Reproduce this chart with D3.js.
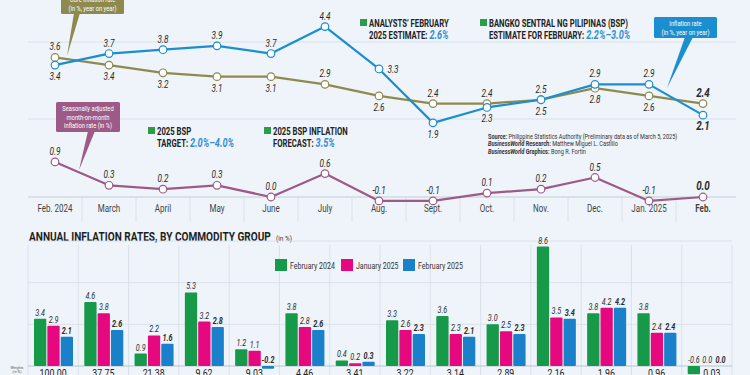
<!DOCTYPE html>
<html>
<head>
<meta charset="utf-8">
<script src="https://cdn.jsdelivr.net/npm/d3@7/dist/d3.min.js"></script>
<style>
  html, body { margin: 0; padding: 0; background: #eef4fa; }
  svg { display: block; font-family: "Roboto", "Liberation Sans", sans-serif; }
</style>
</head>
<body>
<svg id="chart" width="750" height="375"></svg>
<script>
"use strict";

const months = ["Feb. 2024", "March", "April", "May", "June", "July", "Aug.", "Sept.", "Oct.", "Nov.", "Dec.", "Jan. 2025", "Feb."];
const headline = [3.4, 3.7, 3.8, 3.9, 3.7, 4.4, 3.3, 1.9, 2.3, 2.5, 2.9, 2.9, 2.1];
const core = [3.6, 3.4, 3.2, 3.1, 3.1, 2.9, 2.6, 2.4, 2.4, 2.5, 2.8, 2.6, 2.4];
const mom = [0.9, 0.3, 0.2, 0.3, 0.0, 0.6, -0.1, -0.1, 0.1, 0.2, 0.5, -0.1, 0.0];

const weights = ["100.00", "37.75", "21.38", "9.62", "9.03", "4.46", "3.41", "3.22", "3.14", "2.89", "2.16", "1.96", "0.96", "0.03"];
const seriesNames = ["February 2024", "January 2025", "February 2025"];
const feb2024 = [3.4, 4.6, 0.9, 5.3, 1.2, 3.8, 0.4, 3.3, 3.6, 3.0, 8.6, 3.8, 3.8, -0.6];
const jan2025 = [2.9, 3.8, 2.2, 3.2, 1.1, 2.8, 0.2, 2.6, 2.3, 2.5, 3.5, 4.2, 2.4, 0.0];
const feb2025 = [2.1, 2.6, 1.6, 2.8, -0.2, 2.6, 0.3, 2.3, 2.1, 2.3, 3.4, 4.2, 2.4, 0.0];

const C = {
  blue: "#1b8ed0",
  olive: "#8e8a4e",
  mauve: "#9d5a86",
  green: "#2a9d4a",
  barGreen: "#17994a",
  barPink: "#e5087f",
  barBlue: "#1a80c9",
  grid: "#d5dde6",
  text: "#2b2b2b",
  accent: "#2f8fd6",
};

const svg = d3.select("#chart");
const fmt = (v) => d3.format(".1f")(v).replace("−", "-");

// the original uses a condensed face; squeeze measured text horizontally
function squeeze(selection, factor) {
  selection.each(function () {
    const len = this.getComputedTextLength();
    d3.select(this).attr("textLength", len * factor).attr("lengthAdjust", "spacingAndGlyphs");
  });
  return selection;
}

// ---------- top panel: monthly inflation ----------
const x = d3.scaleBand().domain(months).range([28, 730]);
const cx = (m) => x(m) + x.bandwidth() / 2;
const yYoY = d3.scaleLinear().domain([0, 4]).range([196, 42]);
const yMoM = d3.scaleLinear().domain([0, 1]).range([197, 158]);

const grid = svg.append("g");
grid.selectAll("line.h")
  .data([4, 2])
  .join("line")
  .attr("x1", 28).attr("x2", 736)
  .attr("y1", (d) => yYoY(d)).attr("y2", (d) => yYoY(d))
  .attr("stroke", C.grid).attr("stroke-width", 0.8);
grid.append("line")
  .attr("x1", 28).attr("x2", 736).attr("y1", 197).attr("y2", 197)
  .attr("stroke", "#c3ccd6").attr("stroke-width", 1);
grid.selectAll("line.sep")
  .data(months.slice(1))
  .join("line")
  .attr("x1", (d) => x(d)).attr("x2", (d) => x(d))
  .attr("y1", 197).attr("y2", 222)
  .attr("stroke", C.grid).attr("stroke-width", 0.8);

squeeze(svg.append("g")
  .selectAll("text")
  .data(months)
  .join("text")
  .attr("x", (d) => cx(d))
  .attr("y", 212)
  .attr("text-anchor", "middle")
  .attr("font-size", 10)
  .attr("font-weight", (d, i) => (i === months.length - 1 ? 700 : 400))
  .attr("fill", "#444")
  .text((d) => d), 0.8);

// annotation callouts
function callout(box, base, tip, color, lines, lineGap) {
  const g = svg.append("g");
  g.append("path")
    .attr("d", `M${base[0]},${box.y + box.h - 1} L${base[1]},${box.y + box.h - 1} L${tip[0]},${tip[1]} Z`)
    .attr("fill", color);
  g.append("rect")
    .attr("x", box.x).attr("y", box.y).attr("width", box.w).attr("height", box.h)
    .attr("rx", 1.5)
    .attr("fill", color);
  squeeze(g.selectAll("text")
    .data(lines)
    .join("text")
    .attr("x", box.x + box.w / 2)
    .attr("y", (d, i) => box.top + i * lineGap)
    .attr("text-anchor", "middle")
    .attr("font-size", 7.6)
    .attr("fill", "#fff")
    .text((d) => d), 0.76);
}

callout({ x: 61, y: -14, w: 63, h: 28, top: 1.5 }, [74, 80], [67, 56], C.olive,
  ["Core inflation rate", "(in %, year on year)"], 9);
callout({ x: 56, y: 102, w: 64, h: 30, top: 111 }, [88, 95], [79, 170], C.mauve,
  ["Seasonally adjusted", "month-on-month", "inflation rate (in %)"], 8.6);
callout({ x: 654, y: 17, w: 63, h: 21, top: 25.5 }, [685, 693], [667, 88], C.blue,
  ["Inflation rate", "(in %, year on year)"], 9);

const line = (yScale) => d3.line()
  .x((d, i) => cx(months[i]))
  .y((d) => yScale(d));

function drawSeries(values, yScale, color) {
  const g = svg.append("g");
  g.append("path")
    .datum(values)
    .attr("d", line(yScale))
    .attr("fill", "none")
    .attr("stroke", color)
    .attr("stroke-width", 2.2)
    .attr("stroke-linejoin", "round");
  g.selectAll("circle")
    .data(values)
    .join("circle")
    .attr("cx", (d, i) => cx(months[i]))
    .attr("cy", (d) => yScale(d))
    .attr("r", 3.8)
    .attr("fill", "#fff")
    .attr("stroke", color)
    .attr("stroke-width", 1.2);
}

drawSeries(core, yYoY, C.olive);
drawSeries(headline, yYoY, C.blue);
drawSeries(mom, yMoM, C.mauve);

// value labels: higher series above, lower below, with a couple of manual exceptions
const lastIdx = months.length - 1;
function pointLabels(values, other, yScale, isPrimary) {
  squeeze(svg.append("g")
    .selectAll("text")
    .data(values)
    .join("text")
    .each(function (d, i) {
      let above = other ? (isPrimary ? d >= other[i] : d > other[i]) : true;
      let dx = 0;
      if (other && !isPrimary && i === 5) above = true;
      if (other && isPrimary && i === 6) { above = null; dx = 14; }
      const yy = yScale(d);
      const sel = d3.select(this).attr("x", cx(months[i]) + dx);
      if (above === null) sel.attr("y", yy + 4);
      else sel.attr("y", above ? yy - 7 : yy + 15);
    })
    .attr("text-anchor", "middle")
    .attr("font-size", (d, i) => (i === lastIdx ? 12 : 10))
    .attr("font-weight", (d, i) => (i === lastIdx ? 700 : 400))
    .attr("font-style", "italic")
    .attr("fill", C.text)
    .text((d) => fmt(d)), 0.82);
}
pointLabels(headline, core, yYoY, true);
pointLabels(core, headline, yYoY, false);
pointLabels(mom, null, yMoM, true);

// green-square notes
function note(px, py, line1, lead, value) {
  const g = svg.append("g").attr("font-weight", 700).attr("font-size", 11).attr("fill", "#222");
  g.append("rect").attr("x", px).attr("y", py - 8).attr("width", 7).attr("height", 7).attr("fill", C.green);
  squeeze(g.append("text").attr("x", px + 9).attr("y", py).text(line1), 0.7);
  const t = g.append("text").attr("x", px + 9).attr("y", py + 12);
  t.append("tspan").text(lead);
  t.append("tspan").attr("fill", C.accent).attr("font-style", "italic").attr("font-size", 13).text(value);
  squeeze(t, 0.7);
}
note(360, 27, "ANALYSTS’ FEBRUARY", "2025 ESTIMATE: ", "2.6%");
note(480, 27, "BANGKO SENTRAL NG PILIPINAS (BSP)", "ESTIMATE FOR FEBRUARY: ", "2.2%–3.0%");
note(148, 135, "2025 BSP", "TARGET: ", "2.0%–4.0%");
note(264, 135, "2025 BSP INFLATION", "FORECAST: ", "3.5%");

// source lines
const src = svg.append("g").attr("font-size", 6.8).attr("fill", "#333");
const s1 = src.append("text").attr("x", 488).attr("y", 138.5);
s1.append("tspan").attr("font-weight", 700).text("Source: ");
s1.append("tspan").text("Philippine Statistics Authority (Preliminary data as of March 5, 2025)");
const s2 = src.append("text").attr("x", 488).attr("y", 146);
s2.append("tspan").attr("font-weight", 700).attr("font-style", "italic").text("BusinessWorld");
s2.append("tspan").attr("font-weight", 700).text(" Research: ");
s2.append("tspan").text("Matthew Miguel L. Castillo");
const s3 = src.append("text").attr("x", 488).attr("y", 153.5);
s3.append("tspan").attr("font-weight", 700).attr("font-style", "italic").text("BusinessWorld");
s3.append("tspan").attr("font-weight", 700).text(" Graphics: ");
s3.append("tspan").text("Bong R. Fortin");
squeeze(src.selectAll("text"), 0.82);

// ---------- bottom panel: commodity groups ----------
const title = svg.append("text").attr("x", 29).attr("y", 241).attr("fill", "#1e1e1e")
  .attr("font-size", 13).attr("font-weight", 700)
  .text("ANNUAL INFLATION RATES, BY COMMODITY GROUP");
squeeze(title, 0.775);
svg.append("text").attr("x", 276).attr("y", 241).attr("font-size", 6.5).attr("fill", "#333").text("(in %)");

const xb = d3.scaleBand().domain(weights).range([28, 732]);
const xInner = d3.scaleBand().domain(seriesNames).range([6, 45]).paddingInner(0.08);
const yb = d3.scaleLinear().domain([0, 9]).range([366, 241]);
const barColors = d3.scaleOrdinal().domain(seriesNames).range([C.barGreen, C.barPink, C.barBlue]);

const bgrid = svg.append("g");
bgrid.selectAll("line.h")
  .data([3, 6, 9])
  .join("line")
  .attr("x1", 28).attr("x2", 732)
  .attr("y1", (d) => yb(d)).attr("y2", (d) => yb(d))
  .attr("stroke", C.grid).attr("stroke-width", 0.8);
bgrid.selectAll("line.v")
  .data(weights.concat(["end"]))
  .join("line")
  .attr("x1", (d, i) => 28 + i * xb.bandwidth()).attr("x2", (d, i) => 28 + i * xb.bandwidth())
  .attr("y1", 245).attr("y2", 375)
  .attr("stroke", C.grid).attr("stroke-width", 0.8);
bgrid.append("line")
  .attr("x1", 28).attr("x2", 732).attr("y1", yb(0)).attr("y2", yb(0))
  .attr("stroke", "#b8c2cc").attr("stroke-width", 1);

// legend
const legend = svg.append("g")
  .selectAll("g")
  .data(seriesNames)
  .join("g")
  .attr("transform", (d, i) => `translate(${[275, 341, 403][i]},259)`);
legend.append("rect").attr("width", 12).attr("height", 12).attr("fill", (d) => barColors(d));
squeeze(legend.append("text").attr("x", 15).attr("y", 9.5).attr("font-size", 9).attr("fill", "#333").text((d) => d), 0.78);

const barData = weights.flatMap((w, i) => [
  { w, s: seriesNames[0], v: feb2024[i] },
  { w, s: seriesNames[1], v: jan2025[i] },
  { w, s: seriesNames[2], v: feb2025[i] },
]);

const bars = svg.append("g");
bars.selectAll("rect")
  .data(barData)
  .join("rect")
  .attr("x", (d) => xb(d.w) + xInner(d.s))
  .attr("width", xInner.bandwidth())
  .attr("y", (d) => (d.v >= 0 ? yb(d.v) : yb(0)))
  .attr("height", (d) => Math.abs(yb(d.v) - yb(0)))
  .attr("rx", 1)
  .attr("fill", (d) => barColors(d.s));

squeeze(bars.selectAll("text")
  .data(barData)
  .join("text")
  .attr("x", (d) => xb(d.w) + xInner(d.s) + xInner.bandwidth() / 2)
  .attr("y", (d) => (d.v > 0 ? yb(d.v) : yb(0)) - 3)
  .attr("text-anchor", "middle")
  .attr("font-size", 9)
  .attr("font-style", "italic")
  .attr("font-weight", (d) => (d.s === seriesNames[2] ? 700 : 400))
  .attr("fill", C.text)
  .text((d) => fmt(d.v)), 0.8);

squeeze(svg.append("g")
  .selectAll("text")
  .data(weights)
  .join("text")
  .attr("x", (d) => xb(d) + xb.bandwidth() / 2 + (d === "0.03" ? 5 : 0))
  .attr("y", 377)
  .attr("text-anchor", "middle")
  .attr("font-size", 11)
  .attr("fill", "#222")
  .text((d) => d), 0.8);

const wl = svg.append("g").attr("font-size", 3.6).attr("fill", "#555").attr("text-anchor", "middle");
wl.append("text").attr("x", 17).attr("y", 369).text("Weights");
wl.append("text").attr("x", 17).attr("y", 373).text("(in %)");
</script>
</body>
</html>
